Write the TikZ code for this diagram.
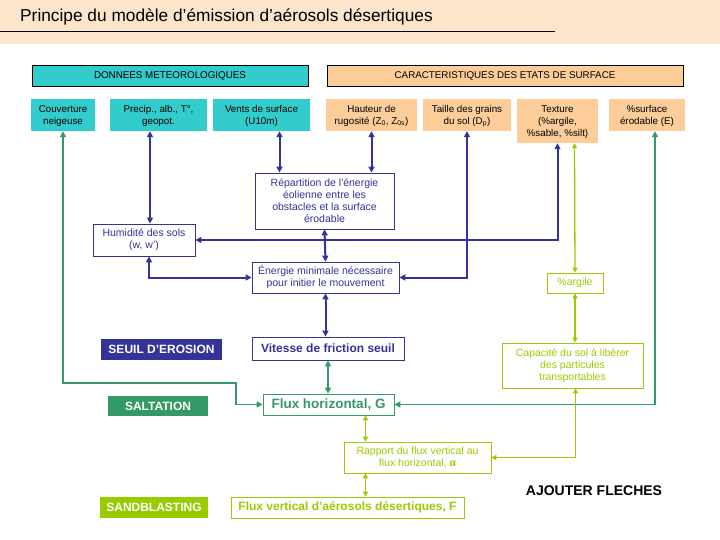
\documentclass[tikz,border=0pt]{standalone}
\usepackage{fontspec}
\setmainfont{Liberation Sans}
\usetikzlibrary{arrows.meta}
\definecolor{banner}{RGB}{253,229,204}
\definecolor{turq}{RGB}{51,204,204}
\definecolor{peach}{RGB}{252,204,153}
\definecolor{navy}{RGB}{51,51,153}
\definecolor{grn}{RGB}{51,153,102}
\definecolor{lime}{RGB}{153,204,0}
\begin{document}
\begin{tikzpicture}[x=1pt,y=-1pt,
    every node/.style={inner sep=0pt,align=center,font=\fontsize{10.5}{12}\selectfont},
    low/.style={font=\fontsize{9.8}{12}\selectfont,text depth=0pt,text height=19pt},
    head/.style={low,text height=7pt,draw=black,line width=0.8pt,minimum height=21pt},
    meteo/.style={low,fill=turq,minimum height=32pt},
    sol/.style={low,fill=peach,minimum height=32pt},
    bbox/.style={draw=navy,line width=0.8pt,text=navy,fill=white},
    gbox/.style={draw=grn,line width=0.8pt,text=grn,fill=white},
    lbox/.style={draw=lime,line width=0.8pt,text=lime,fill=white},
    tag/.style={text=white,minimum height=21pt,font=\fontsize{12}{14}\selectfont\bfseries},
    bline/.style={navy,line width=2pt,{Triangle[length=6pt,width=6pt]}-{Triangle[length=6pt,width=6pt]}},
    gline/.style={grn,line width=1.8pt,{Triangle[length=6pt,width=6pt]}-{Triangle[length=6pt,width=6pt]}},
    lline/.style={lime,line width=1.3pt,{Triangle[length=5pt,width=5pt]}-{Triangle[length=5pt,width=5pt]}}]
  \useasboundingbox (0,0) rectangle (720,540);
  \fill[banner] (0,0) rectangle (720,44);
  \node[anchor=west,font=\fontsize{17.3}{20}\selectfont] (titre) at (20,17) {Principe du modèle d’émission d’aérosols désertiques};
  \coordinate (trait) at (555,31);
  \draw[line width=0.8pt] (0,31) -- (trait);

  % en-tetes
  \node[head,fill=turq,minimum width=276pt] (donnees) at (170,75.5) {DONNEES METEOROLOGIQUES};
  \node[head,fill=peach,minimum width=356pt] (caract) at (505,75.5) {CARACTERISTIQUES DES ETATS DE SURFACE};

  \node[meteo,minimum width=64pt] (couv) at (63,115) {Couverture\\neigeuse};
  \node[meteo,minimum width=97pt] (precip) at (158.5,115) {Precip., alb., T°,\\geopot.};
  \node[meteo,minimum width=97pt] (vents) at (261.5,115) {Vents de surface\\(U10m)};
  \node[sol,minimum width=91pt] (hauteur) at (371.5,115) {Hauteur de\\rugosité (Z\textsubscript{0}, Z\textsubscript{0s})};
  \node[sol,minimum width=88pt] (taille) at (467,115) {Taille des grains\\du sol (D\textsubscript{p})};
  \node[sol,minimum width=81pt,minimum height=44pt,text height=31pt] (texture) at (557.5,121) {Texture\\(\%argile,\\\%sable, \%silt)};
  \node[sol,minimum width=76pt] (surface) at (647,115) {\%surface\\érodable (E)};

  % boites du modele
  \node[bbox,minimum width=139pt,minimum height=56pt] (repart) at (324.5,201) {Répartition de l\textquotesingle énergie\\éolienne entre les\\obstacles et la surface\\érodable};
  \node[bbox,minimum width=102pt,minimum height=32pt] (humid) at (144,240) {Humidité des sols\\(w, w')};
  \node[bbox,minimum width=147pt,minimum height=31pt] (energie) at (325.5,277.5) {Énergie minimale nécessaire\\pour initier le mouvement};
  \node[lbox,minimum width=56pt,minimum height=20pt] (argile) at (575,283) {\%argile};
  \node[tag,fill=navy,minimum width=121pt] (seuil) at (161.5,349) {SEUIL D’EROSION};
  \node[bbox,minimum width=152pt,minimum height=23pt,font=\fontsize{12}{14}\selectfont\bfseries] (vitesse) at (328,348.5) {Vitesse de friction seuil};
  \node[lbox,minimum width=141pt,minimum height=45pt] (capac) at (572.5,365.5) {Capacité du sol à libérer\\des particules\\transportables};
  \node[tag,fill=grn,minimum width=100pt,minimum height=20pt] (saltation) at (158,406) {SALTATION};
  \node[gbox,minimum width=131pt,minimum height=21pt,font=\fontsize{13.5}{15}\selectfont\bfseries] (fluxh) at (328.5,404.5) {Flux horizontal, G};
  \node[lbox,minimum width=147pt,minimum height=31pt] (rapport) at (417.5,457.5) {Rapport du flux vertical au\\flux horizontal, \textbf{α}};
  \node[tag,fill=lime,minimum width=108pt] (sand) at (154,507.5) {SANDBLASTING};
  \node[lbox,minimum width=233pt,minimum height=21pt,font=\fontsize{12}{14}\selectfont\bfseries] (fluxv) at (347.5,507.5) {Flux vertical d’aérosols désertiques, F};
  \node[font=\fontsize{14}{16}\selectfont\bfseries] (ajouter) at (594,491) {AJOUTER FLECHES};

  % fleches
  \coordinate (coude) at (236,383);
  \draw[gline] (couv.south) |- (coude) |- (fluxh.west);
  \draw[bline] ([xshift=6pt]humid.north) -- ([xshift=6pt]humid.north |- precip.south);
  \draw[bline] ([xshift=-45pt]repart.north |- vents.south) -- ([xshift=-45pt]repart.north);
  \draw[bline] (hauteur.south) -- (hauteur.south |- repart.north);
  \draw[bline] (taille.south) |- (energie.east);
  \draw[bline] (texture.south) |- (humid.east);
  \draw[bline] (repart.south) -- (energie.north);
  \draw[bline] ([xshift=5pt]humid.south) |- (energie.west);
  \draw[bline] (energie.south) -- (energie.south |- vitesse.north);
  \draw[gline] (vitesse.south) -- (vitesse.south |- fluxh.north);
  \draw[gline] ([xshift=8pt]surface.south) |- (fluxh.east);
  \draw[lline] ([xshift=17pt]texture.south) -- (argile.north);
  \draw[lline] (argile.south) -- (argile.south |- capac.north);
  \draw[lline] ([xshift=3pt]capac.south) |- (rapport.east);
  \draw[lline] ([xshift=37pt]fluxh.south) -- ([xshift=37pt]fluxh.south |- rapport.north);
  \draw[lline] ([xshift=-52pt]rapport.south) -- ([xshift=-52pt]rapport.south |- fluxv.north);
\end{tikzpicture}
\end{document}
